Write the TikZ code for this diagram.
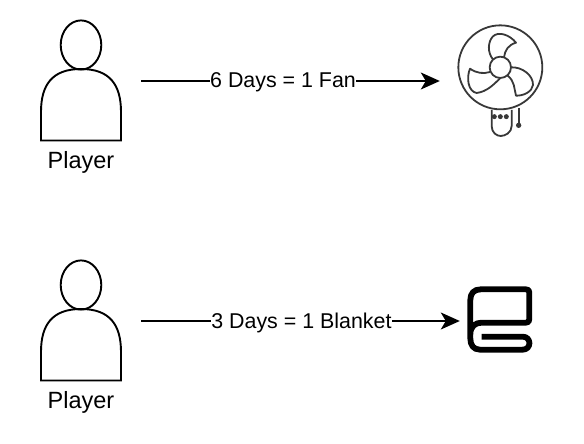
\documentclass[tikz,border=0pt]{standalone}
\usepackage{fontspec}
\setmainfont{Liberation Sans}
\usetikzlibrary{arrows.meta}
\tikzset{
  anchorbox/.style={minimum width=#1,minimum height=10pt,inner sep=0pt,draw=none},
  playerlabel/.style={font=\fontsize{23.5}{26}\selectfont,text=black,inner sep=0pt},
  edgelabel/.style={font=\fontsize{21.4}{24}\selectfont,text=black,fill=white,inner xsep=0pt,inner ysep=1pt},
  flow/.style={line width=1.5pt,black,-{Stealth[length=19pt,width=17pt,inset=5pt]}},
  outline/.style={line width=1.9pt,black},
  fanline/.style={line width=1.8pt,draw=black!78,line join=round},
  fandot/.style={fill=black!78,draw=none},
  blanketline/.style={line width=5.8pt,black,line join=round}
}
\newcommand{\playershape}[1]{%
  \begin{scope}[shift={(0,#1)}]
    \draw[outline] (81,45) ellipse [x radius=20.3,y radius=24.6];
    \draw[outline] (41,140.5) -- (41,112) .. controls (41,85) and (52,69) .. (81,69) .. controls (110,69) and (121,85) .. (121,112) -- (121,140.5) -- cycle;
  \end{scope}}
\begin{document}
\begin{tikzpicture}[x=1pt,y=-1pt]
\useasboundingbox (0,0) rectangle (584,444);
\playershape{0}
\playershape{240}
% fan
\begin{scope}[shift={(440,10)},x=0.3333pt,y=-0.3333pt]
  \draw[fanline] (181,172) circle [radius=126];
  \draw[fanline] (181,172) circle [radius=32];
  \draw[fanline] (160,150) .. controls (140,125) and (145,95) .. (158,80) .. controls (175,62) and (210,75) .. (228,98) .. controls (205,105) and (195,120) .. (192,142);
  \draw[fanline] (213,172) .. controls (245,170) and (280,195) .. (279,225) .. controls (277,245) and (250,258) .. (228,257) .. controls (222,235) and (225,215) .. (203,197);
  \draw[fanline] (180,205) .. controls (160,225) and (140,245) .. (110,249) .. controls (85,245) and (78,205) .. (90,176) .. controls (110,190) and (130,192) .. (150,186);
  \draw[fanline] (155,300) -- (155,348) .. controls (155,368) and (170,378) .. (182,378) .. controls (195,378) and (215,368) .. (215,348) -- (215,300);
  \foreach \dotx in {163,181,199} \fill[fandot] (\dotx,320) circle [radius=7.5];
  \draw[fanline] (236,294) -- (236,346);
  \fill[fandot] (236,346) circle [radius=8];
\end{scope}
% blanket
\begin{scope}[shift={(450,275)},x=0.3333pt,y=-0.3333pt]
  \draw[blanketline] (95,185) -- (218,185) .. controls (245,185) and (245,224) .. (218,224) -- (90,224) .. controls (70,224) and (61,210) .. (61,190) -- (61,75) .. controls (61,55) and (72,43) .. (92,43) -- (228,43) .. controls (235,43) and (238,46) .. (238,53) -- (238,132) .. controls (238,140) and (235,143) .. (228,143) -- (95,143) .. controls (75,143) and (61,155) .. (61,178);
\end{scope}
% named anchors
\node[anchorbox=100pt] (playerA) at (91,81) {};
\node[anchorbox=100pt] (playerB) at (91,321) {};
\node[anchorbox=42pt] (fan) at (461,81) {};
\node[anchorbox=42pt] (blanket) at (481,321) {};
\node[playerlabel] (labelA) at (81,162.5) {Player};
\node[playerlabel] (labelB) at (81,402.5) {Player};
\draw[flow] (playerA.east) -- node[edgelabel,pos=0.475,yshift=-1.5pt] (edgeA) {6 Days = 1 Fan} (fan.west);
\draw[flow] (playerB.east) -- node[edgelabel,pos=0.503,yshift=-1.5pt] (edgeB) {3 Days = 1 Blanket} (blanket.west);
\end{tikzpicture}
\end{document}
